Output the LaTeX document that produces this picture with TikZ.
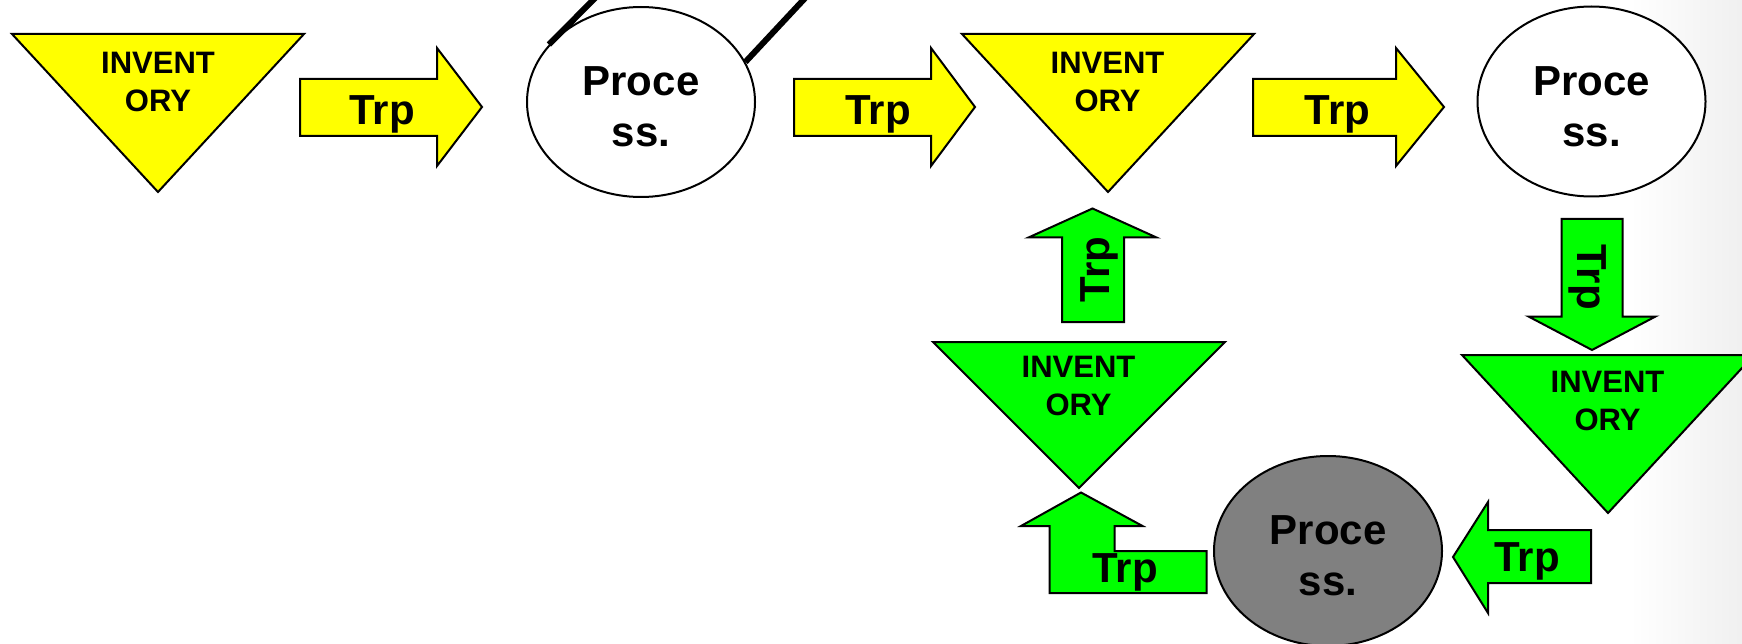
\documentclass[tikz,border=0pt]{standalone}
\usepackage{fontspec}
\setmainfont{Liberation Sans}
\usetikzlibrary{shapes.geometric}
\definecolor{invyellow}{RGB}{255,255,0}
\definecolor{invgreen}{RGB}{0,255,0}
\definecolor{procgray}{RGB}{128,128,128}
\tikzset{
    outline/.style={draw=black,line width=2pt,line join=miter},
    invy/.style={outline,fill=invyellow},
    invg/.style={outline,fill=invgreen},
    trpy/.style={outline,fill=invyellow},
    trpg/.style={outline,fill=invgreen},
    process/.style={ellipse,outline,fill=white,minimum width=228pt,minimum height=190pt,
        inner sep=0pt,align=center,font=\fontsize{42}{51}\selectfont\bfseries},
    invlabel/.style={align=center,inner sep=0pt,font=\fontsize{31}{38}\selectfont\bfseries},
    trplabel/.style={inner sep=0pt,anchor=base,font=\fontsize{42}{50}\selectfont\bfseries},
    stick/.style={draw=black,line width=6pt}
}

\begin{document}
\begin{tikzpicture}[x=1pt,y=-1pt]
    \clip (0,0) rectangle (1742,644);
    \fill[white] (0,0) rectangle (1742,644);
    \shade[left color=white,right color=black!6] (1630,0) rectangle (1742,644);

    % top row
    \draw[invy] (12,34) -- (304,34) -- (158,192) -- cycle;
    \node[invlabel] (inv1) at (158,82) {INVENT\\ORY};
    \draw[trpy] (300,79) -- (437,79) -- (437,48) -- (482,107) -- (437,166) -- (437,136) -- (300,136) -- cycle;
    \node[trplabel] (trp1) at (382,125) {Trp};
    \node[process] (proc1) at (641,102) {\rule{0pt}{39pt}Proce\\ss.};
    \draw[trpy] (794,79) -- (931,79) -- (931,48) -- (975,107) -- (931,166) -- (931,136) -- (794,136) -- cycle;
    \node[trplabel] (trp2) at (878,125) {Trp};
    \draw[invy] (962,34) -- (1254,34) -- (1108,192) -- cycle;
    \node[invlabel] (inv2) at (1107.5,82) {INVENT\\ORY};
    \draw[trpy] (1253,79) -- (1396,79) -- (1396,48) -- (1444,107) -- (1396,166) -- (1396,136) -- (1253,136) -- cycle;
    \node[trplabel] (trp3) at (1337.5,125) {Trp};
    \node[process] (proc2) at (1591.5,101.5) {\rule{0pt}{39pt}Proce\\ss.};

    % handle lines
    \coordinate (stickA) at (613,-20);
    \coordinate (stickB) at (822,-20);
    \draw[stick] (proc1.148) -- (stickA);
    \draw[stick] (proc1.21) -- (stickB);

    % green loop
    \draw[trpg] (1062,322) -- (1062,237.5) -- (1028.5,237.5) -- (1092.5,208.5) -- (1156.5,237.5) -- (1124,237.5) -- (1124,322) -- cycle;
    \node[trplabel,rotate=90] (trp4) at (1109,269.5) {Trp};
    \draw[invg] (933,342) -- (1225,342) -- (1079,488) -- cycle;
    \node[invlabel] (inv3) at (1078.5,386) {INVENT\\ORY};
    \draw[trpg] (1561.5,219) -- (1622.5,219) -- (1622.5,316.5) -- (1655.5,316.5) -- (1592,350) -- (1528.5,316.5) -- (1561.5,316.5) -- cycle;
    \node[trplabel,rotate=-90] (trp5) at (1577,277) {Trp};
    \draw[invg] (1462,355) -- (1754,355) -- (1608,513) -- cycle;
    \node[invlabel] (inv4) at (1607.5,401) {INVENT\\ORY};
    \draw[trpg] (1591,530) -- (1591,583) -- (1488,583) -- (1488,613) -- (1453,557) -- (1488,502) -- (1488,530) -- cycle;
    \node[trplabel] (trp6) at (1527,571) {Trp};
    \node[process,fill=procgray] (proc3) at (1328,551) {\rule{0pt}{39pt}Proce\\ss.};
    \draw[trpg] (1081,492.5) -- (1142.5,526) -- (1114.5,526) -- (1114.5,551) -- (1206.5,551) -- (1206.5,593) -- (1049.5,593) -- (1049.5,526) -- (1021,526) -- cycle;
    \node[trplabel] (trp7) at (1125,582.7) {Trp};
\end{tikzpicture}
\end{document}
